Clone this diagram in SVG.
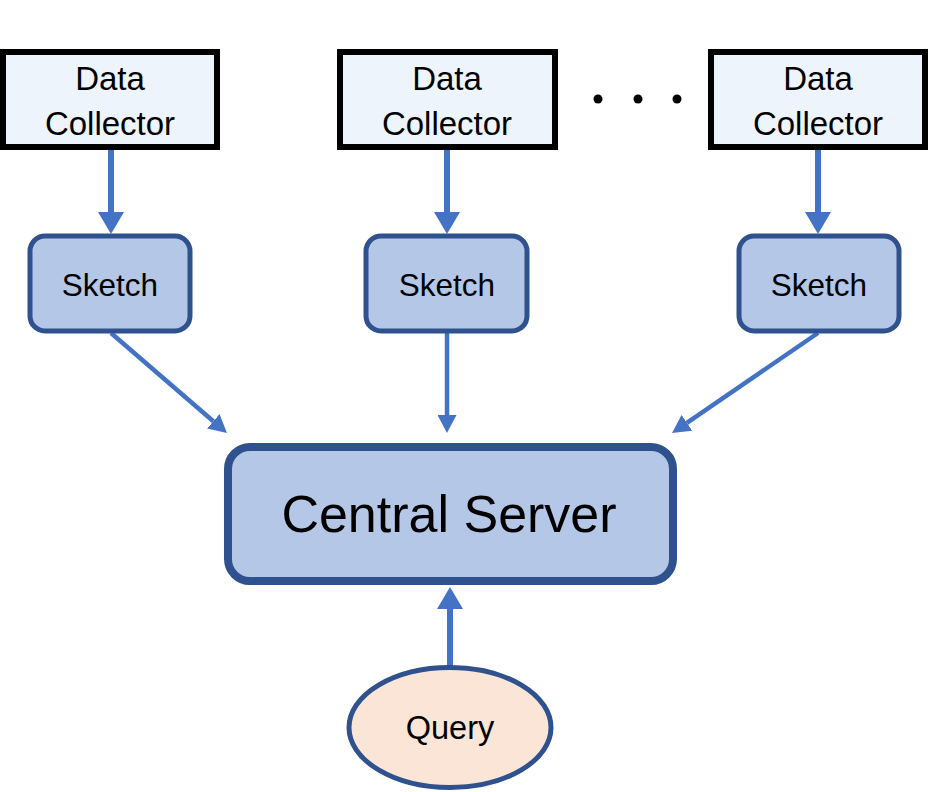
<svg xmlns="http://www.w3.org/2000/svg" width="929" height="792" viewBox="0 0 929 792">
<style>
.collector{fill:#EEF4FB;stroke:#000;stroke-width:6}
.sketch{fill:#B4C7E7;stroke:#2F528F;stroke-width:5}
.server{fill:#B4C7E7;stroke:#2F528F;stroke-width:8}
.query{fill:#FBE5D6;stroke:#2F528F;stroke-width:5}
text{font-family:"Liberation Sans",Arial,sans-serif;fill:#000;text-anchor:middle}
.t33{font-size:33px}
.t31{font-size:31.5px}
.t32{font-size:32.5px}
.t50{font-size:52px}
.conn{stroke:#4472C4;fill:none}
.thick{stroke-width:6}
.thin{stroke-width:4.5}
</style>
<defs>
<marker id="bigHead" markerUnits="userSpaceOnUse" markerWidth="22" markerHeight="26" refX="0" refY="13" orient="auto" viewBox="0 0 22 26">
<path d="M0,0 L22,13 L0,26 z" fill="#4472C4"/>
</marker>
<marker id="smallHead" markerUnits="userSpaceOnUse" markerWidth="18" markerHeight="19" refX="0" refY="9.5" orient="auto" viewBox="0 0 18 19">
<path d="M0,0 L18,9.5 L0,19 z" fill="#4472C4"/>
</marker>
</defs>
<g id="connectors">
<line class="conn thick" x1="111" y1="150" x2="111" y2="212" marker-end="url(#bigHead)"/>
<line class="conn thick" x1="447" y1="150" x2="447" y2="212" marker-end="url(#bigHead)"/>
<line class="conn thick" x1="818" y1="150" x2="818" y2="212" marker-end="url(#bigHead)"/>
<line class="conn thin" x1="111" y1="333" x2="213.3" y2="421.3" marker-end="url(#smallHead)"/>
<line class="conn thin" x1="447" y1="333" x2="447" y2="415" marker-end="url(#smallHead)"/>
<line class="conn thin" x1="818" y1="333" x2="686.9" y2="422.8" marker-end="url(#smallHead)"/>
<line class="conn thick" x1="450" y1="667" x2="450" y2="609" marker-end="url(#bigHead)"/>
</g>
<g id="collector1">
<rect class="collector" x="3" y="52" width="214" height="95"/>
<text class="t33" x="110" y="90">Data</text>
<text class="t33" x="110" y="135">Collector</text>
</g>
<g id="collector2">
<rect class="collector" x="340" y="52" width="215" height="95"/>
<text class="t33" x="447" y="90">Data</text>
<text class="t33" x="447" y="135">Collector</text>
</g>
<g id="ellipsis">
<circle cx="598" cy="99" r="4.5" fill="#000"/>
<circle cx="638" cy="99" r="4.5" fill="#000"/>
<circle cx="677" cy="99" r="4.5" fill="#000"/>
</g>
<g id="collector3">
<rect class="collector" x="711" y="52" width="214" height="95"/>
<text class="t33" x="818" y="90">Data</text>
<text class="t33" x="818" y="135">Collector</text>
</g>
<g id="sketch1">
<rect class="sketch" x="30" y="236" width="160" height="95" rx="15"/>
<text class="t31" x="110" y="296">Sketch</text>
</g>
<g id="sketch2">
<rect class="sketch" x="366" y="236" width="161" height="95" rx="15"/>
<text class="t31" x="447" y="296">Sketch</text>
</g>
<g id="sketch3">
<rect class="sketch" x="739" y="236" width="160" height="95" rx="15"/>
<text class="t31" x="819" y="296">Sketch</text>
</g>
<g id="server">
<rect class="server" x="228" y="447" width="445" height="134" rx="22"/>
<text class="t50" x="449" y="532">Central Server</text>
</g>
<g id="query">
<ellipse class="query" cx="450" cy="727.5" rx="101" ry="60"/>
<text class="t32" x="450" y="739">Query</text>
</g>
</svg>
